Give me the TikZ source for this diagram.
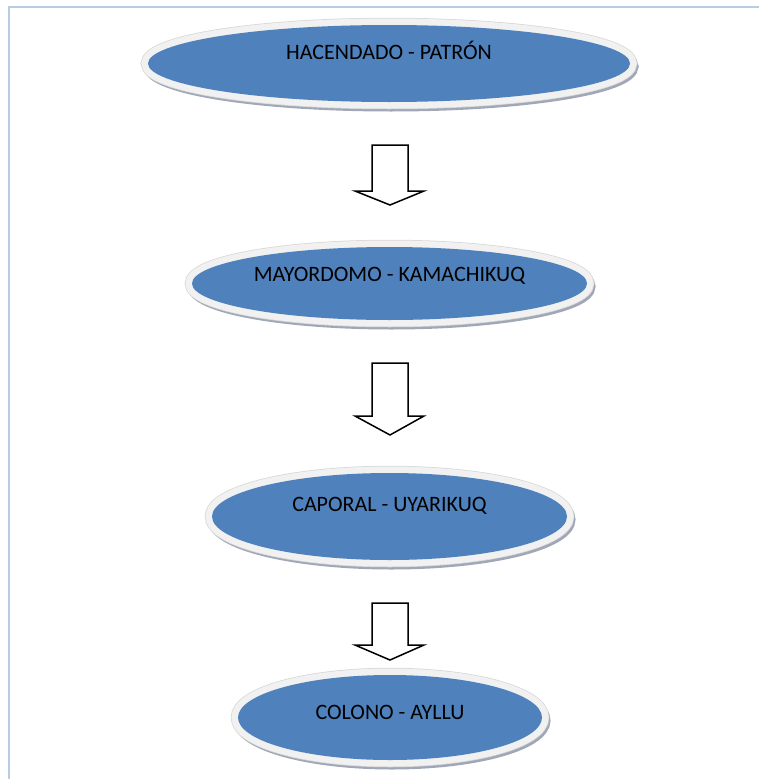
\documentclass[tikz,border=0pt]{standalone}
\usepackage{fontspec}
\setmainfont{Carlito}
\usetikzlibrary{shapes.geometric}

\definecolor{azul}{RGB}{79,129,189}
\definecolor{aro}{RGB}{241,241,241}
\definecolor{borde}{RGB}{215,215,215}
\definecolor{sombra}{RGB}{160,168,184}
\definecolor{marco}{RGB}{184,204,228}

\tikzset{
    elipse/.style={ellipse, inner sep=0pt, fill=azul, text=black,
        font=\fontsize{22}{25}\selectfont, text height=15pt,
        preaction={draw=sombra, line width=13pt, transform canvas={xshift=2pt,yshift=-3pt}},
        preaction={draw=borde, line width=14.5pt},
        preaction={draw=aro, line width=13pt}},
    flecha/.style={draw=black, line width=1.5pt, fill=white, line join=miter}
}

\begin{document}
\begin{tikzpicture}[x=1pt, y=-1pt]

\useasboundingbox (0,0) rectangle (759,779);

% Marco
\draw[marco, line width=2pt] (9,779) -- (9,7) -- (759,7);

% Niveles
\node[elipse, minimum width=482pt, minimum height=77pt, text depth=23pt] (hacendado) at (389,63.5) {HACENDADO - PATRÓN};
\node[elipse, minimum width=395pt, minimum height=73pt, text depth=19pt] (mayordomo) at (389.5,283.5) {MAYORDOMO - KAMACHIKUQ};
\node[elipse, minimum width=355pt, minimum height=87pt, text depth=25pt] (caporal) at (389.5,516.5) {CAPORAL - UYARIKUQ};
\node[elipse, minimum width=304pt, minimum height=85pt, text depth=11pt] (colono) at (390,717.5) {COLONO - AYLLU};

% Flechas
\foreach \ya/\yb/\yc in {145/191/205, 363/416/435, 603/645/660}
    \draw[flecha] (372,\ya) -- (408,\ya) -- (408,\yb) -- (424,\yb) -- (390,\yc)
        -- (355,\yb) -- (372,\yb) -- cycle;

\end{tikzpicture}
\end{document}
